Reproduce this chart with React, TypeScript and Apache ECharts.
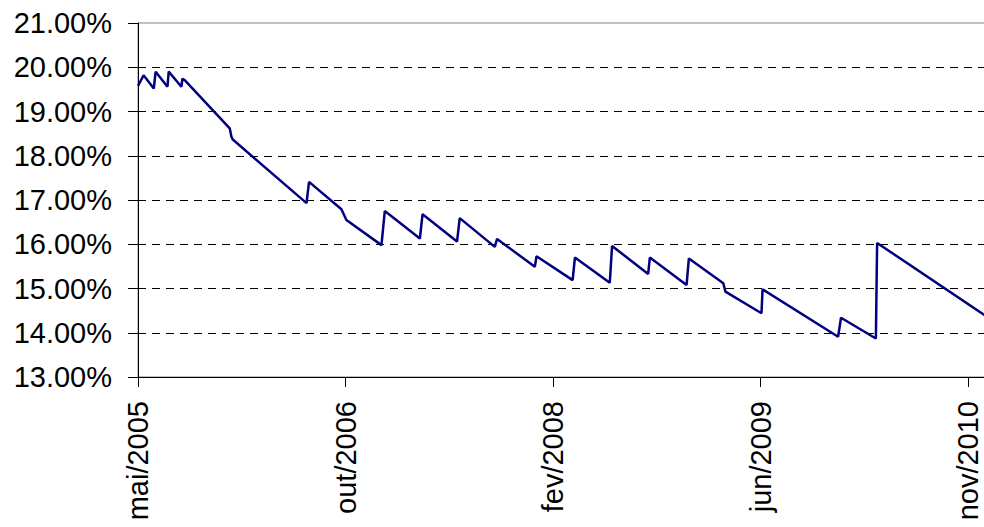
import React, { useEffect, useRef } from "react";
import * as echarts from "echarts";

// Position along the time axis: 100 units between consecutive date labels.
const xPos = [
  0, 2.7, 7.6, 8.5, 14.2, 14.8, 20.9, 21.4, 22.5, 44.2, 45.0, 45.8, 81.2, 82.4,
  98.0, 100.4, 117.3, 118.9, 135.8, 137.1, 153.7, 155.0, 171.9, 173.0, 191.2,
  192.0, 209.4, 210.5, 227.3, 228.4, 245.8, 246.6, 264.3, 265.4, 282.0, 283.0,
  300.4, 300.9, 337.3, 338.7, 355.5, 356.1, 410,
];

// Rate (%) at each position.
const rate = [
  19.58, 19.82, 19.52, 19.9, 19.56, 19.9, 19.56, 19.74, 19.71, 18.62, 18.43,
  18.36, 16.93, 17.41, 16.79, 16.55, 15.98, 16.75, 16.13, 16.68, 16.06, 16.59,
  15.94, 16.12, 15.49, 15.73, 15.19, 15.7, 15.13, 15.96, 15.33, 15.7, 15.08,
  15.68, 15.12, 14.93, 14.44, 14.98, 13.91, 14.34, 13.87, 16.03, 14.33,
];

const xTickLabels = ["mai/2005", "out/2006", "fev/2008", "jun/2009", "nov/2010"];
const xTickStep = 100;

const yMin = 13;
const yMax = 21;

const FONT = "'Liberation Sans', Arial, Helvetica, sans-serif";

export default function App() {
  const ref = useRef<HTMLDivElement>(null);

  useEffect(() => {
    if (!ref.current) return;
    const chart = echarts.init(ref.current, null, { renderer: "svg" });
    const data = xPos.map((x, i) => [x, rate[i]]);
    chart.setOption({
      animation: false,
      backgroundColor: "#ffffff",
      grid: {
        left: 138,
        top: 23,
        width: 851,
        height: 354,
        show: true,
        borderColor: "#808080",
        borderWidth: 1,
        backgroundColor: "transparent",
      },
      xAxis: {
        type: "value",
        min: 0,
        max: 410,
        interval: xTickStep,
        axisLine: { show: true, onZero: false, lineStyle: { color: "#000", width: 1 } },
        axisTick: { show: true, inside: false, length: 10, lineStyle: { color: "#000" } },
        splitLine: { show: false },
        axisLabel: {
          rotate: 90,
          margin: 24,
          color: "#000",
          fontFamily: FONT,
          fontSize: 29,
          showMaxLabel: false,
          formatter: (v: number) => {
            const i = Math.round(v / xTickStep);
            return Math.abs(v - i * xTickStep) < 1e-6 && xTickLabels[i] ? xTickLabels[i] : "";
          },
        },
      },
      yAxis: {
        type: "value",
        min: yMin,
        max: yMax,
        interval: 1,
        axisLine: { show: true, lineStyle: { color: "#000", width: 1 } },
        axisTick: { show: true, inside: false, length: 10, lineStyle: { color: "#000" } },
        splitLine: {
          show: true,
          showMinLine: false,
          showMaxLine: false,
          lineStyle: { color: "#000", width: 1, type: [8, 6] },
        },
        axisLabel: {
          margin: 26,
          color: "#000",
          fontFamily: FONT,
          fontSize: 29,
          formatter: (v: number) => v.toFixed(2) + "%",
        },
      },
      series: [
        {
          type: "line",
          data,
          showSymbol: false,
          symbol: "none",
          lineStyle: { color: "#000080", width: 2.5 },
          clip: true,
        },
      ],
    });
    return () => chart.dispose();
  }, []);

  return (
    <div
      style={{
        position: "fixed",
        left: 0,
        top: 0,
        width: 984,
        height: 527,
        overflow: "hidden",
        background: "#fff",
      }}
    >
      <div ref={ref} style={{ width: 1010, height: 527 }} />
    </div>
  );
}
